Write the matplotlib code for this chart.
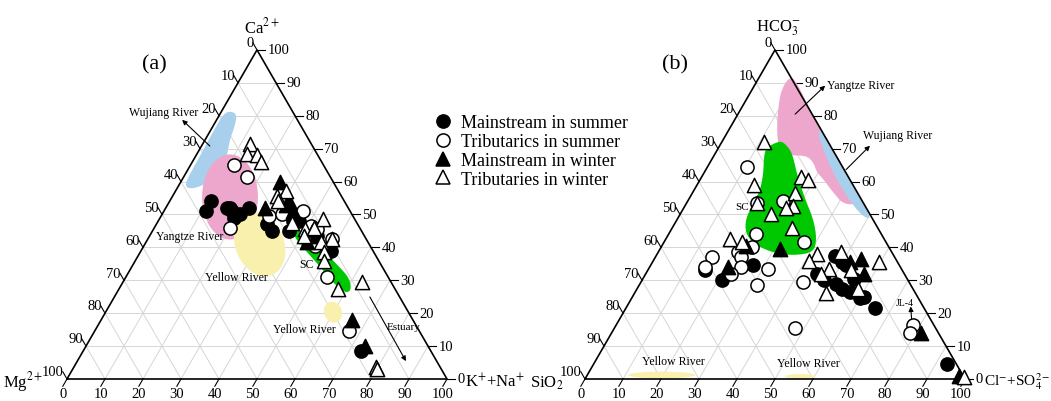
import numpy as np
import matplotlib
matplotlib.use("Agg")
import matplotlib.pyplot as plt
from matplotlib.patches import Polygon, Ellipse
from matplotlib.lines import Line2D

plt.rcParams['font.family'] = ['Liberation Serif', 'DejaVu Serif']
plt.rcParams['mathtext.fontset'] = 'stix'

SQ3 = np.sqrt(3)

# ====== panel (a): cations, % K+Na (bottom axis) and % Ca (right axis) ======
a_ms_summer_kna = [11, 11, 16, 18, 20.5, 22, 19.5, 17, 29, 31.5, 36, 35.5, 37, 44, 50, 73]
a_ms_summer_ca = [54, 51, 52, 51, 50, 52, 49, 52, 47, 45, 45, 48, 48, 43.5, 39, 8.5]
a_tr_summer_kna = [11.5, 16.5, 20, 28.5, 31.5, 36.5, 41, 43, 48.5, 45, 53, 67]
a_tr_summer_ca = [65, 61.5, 46, 49.5, 50, 51, 46.5, 45.5, 42.5, 40.5, 31, 14.5]
a_ms_winter_kna = [26, 31.5, 26, 34, 31, 44, 42.5, 66, 73.5]
a_ms_winter_ca = [60, 54, 52, 51, 53, 43.5, 41.5, 18, 10]
a_tr_winter_kna = [12.5, 13, 16, 18, 29, 27.5, 28.5, 35.5, 40, 43, 40.5, 42, 48.5, 46, 48.5,
                   49.5, 57.5, 63, 79.5, 80]
a_tr_winter_ca = [71.5, 68.5, 68, 66, 57, 55.5, 54, 47.5, 45.5, 48.5, 43.5, 46, 42.5, 41.5, 38.5,
                  36, 27.5, 29.5, 3.5, 3]

# ====== panel (b): anions, % Cl+SO4 (bottom axis) and % HCO3 (right axis) ======
b_ms_summer_cls = [27, 21, 15, 47, 50, 45, 48, 51.5, 54, 56.5, 60, 61, 65.5, 51.5, 93, 55.5]
b_ms_summer_hco = [34.5, 30, 33, 37.5, 35.5, 32, 30, 29, 27.5, 26.5, 24.5, 25, 21.5, 34.5, 4.5, 30.5]
b_tr_summer_cls = [10.5, 18.5, 25, 23, 37, 15, 14.5, 21, 22.5, 24, 22.5, 24, 31.5, 31, 42.5, 47.5,
                   78, 78.5]
b_tr_summer_hco = [64.5, 53.5, 54, 44, 41.5, 37, 34, 38.5, 37, 34, 32, 40, 33.5, 28.5, 29.5, 15.5,
                   16.5, 14]
b_ms_winter_cls = [31.5, 22, 20.5, 54.5, 52, 57.5, 81.5, 98]
b_ms_winter_hco = [39.5, 40.5, 34, 36.5, 35.5, 32, 14, 1]
b_tr_winter_cls = [11, 15, 18.5, 24, 26, 28.5, 27, 28.5, 27, 31.5, 17, 20.5, 42, 41, 48, 59.5,
                   47.5, 46, 53.5, 50.5, 58, 99.5]
b_tr_winter_hco = [72, 59, 53.5, 50, 61.5, 60.5, 56.5, 52.5, 52, 46, 42.5, 41.5, 38, 36, 38.5, 35.5,
                   33.5, 32, 33, 26, 27.5, 0.7]

tick_values = list(range(0, 101, 10))
legend_labels = ['Mainstream in summer', 'Tributarics in summer',
                 'Mainstream in winter', 'Tributaries in winter']

# outlines of the comparison fields (triangle plot units)
a_wujiang = [(42.9, 70.5), (44.7, 69.7), (44.2, 66.6), (42.9, 63.2), (42.1, 58.7), (40.3, 54.5),
             (37.6, 51.8), (33.2, 50.0), (31.1, 50.5), (31.6, 52.6), (35.0, 58.7), (38.4, 65.0),
             (41.1, 69.7)]
a_sc = [(59.6, 39.2), (62.4, 38.8), (67.2, 34.0), (71.6, 29.6), (74.4, 26.4), (74.8, 23.2),
        (73.0, 22.7), (69.8, 25.6), (66.2, 30.0), (62.6, 34.0), (59.8, 37.4)]
b_yangtze = [(53.8, 79.3), (55.4, 78.8), (59.6, 70.0), (65.4, 60.0), (71.1, 50.0), (71.6, 46.0),
             (68.0, 46.0), (65.3, 49.1), (62.7, 52.6), (61.0, 54.4), (60.1, 57.0), (58.3, 58.8),
             (53.9, 58.8), (51.1, 60.1), (50.4, 65.8), (51.1, 73.7), (52.2, 77.2)]
b_wujiang = [(61.8, 65.6), (62.3, 65.5), (75.6, 42.5), (73.7, 42.3), (70.6, 45.6), (67.1, 50.9),
             (64.5, 56.1), (62.7, 60.5), (61.4, 64.1)]
b_sc = [(50.9, 62.5), (47.8, 61.0), (47.1, 58.8), (46.9, 53.6), (45.9, 49.1), (43.4, 44.7),
        (42.1, 41.2), (42.5, 37.7), (45.2, 35.1), (49.6, 33.2), (54.8, 32.5), (60.1, 33.3),
        (61.0, 36.8), (60.1, 42.1), (57.9, 47.4), (55.9, 53.5), (54.8, 58.3), (53.9, 60.5),
        (52.2, 62.3)]

PINK = '#EEA7CC'
BLUE = '#A8D0EC'
YELLOW = '#FAF0AE'
GREEN = '#00C800'


def proj(b, c):
    b = np.asarray(b, float)
    c = np.asarray(c, float)
    return b + c / 2, c * SQ3 / 2


def smooth(pts, n=3):
    pts = np.asarray(pts, float)
    for _ in range(n):
        nxt = np.roll(pts, -1, axis=0)
        out = np.empty((2 * len(pts), 2))
        out[0::2] = 0.75 * pts + 0.25 * nxt
        out[1::2] = 0.25 * pts + 0.75 * nxt
        pts = out
    return pts


def draw_frame(ax):
    # grid
    for v in range(10, 100, 10):
        for (b0, c0), (b1, c1) in [((0, v), (100 - v, v)), ((v, 0), (v, 100 - v)),
                                   ((100 - v, 0), (0, 100 - v))]:
            x, y = proj([b0, b1], [c0, c1])
            ax.plot(x, y, color='#d6d6d6', lw=0.7, zorder=1)
    x, y = proj([0, 100, 0, 0], [0, 0, 100, 0])
    ax.plot(x, y, color='black', lw=1.2, zorder=5, solid_joinstyle='miter')
    L = 2.2
    for v in tick_values:
        # right edge
        x, y = proj(100 - v, v)
        ax.plot([x, x + L], [y, y], color='black', lw=0.8)
        ax.text(x + L + 0.5, y, str(v), ha='left', va='center', fontsize=10.5)
        # left edge
        x, y = proj(0, 100 - v)
        dx, dy = -0.5 * L, SQ3 / 2 * L
        ax.plot([x, x + dx], [y, y + dy], color='black', lw=0.8)
        ax.text(x + dx + 0.3, y + dy, str(v), ha='right', va='center', fontsize=10.5)
        # bottom edge
        x, y = proj(v, 0)
        dx, dy = -0.5 * L, -SQ3 / 2 * L
        ax.plot([x, x + dx], [y, y + dy], color='black', lw=0.8)
        ax.text(x + dx, y + dy - 0.2, str(v), ha='center', va='top', fontsize=10.5)


def draw_points(ax, groups):
    styles = [dict(marker='o', facecolor='black', s=90),
              dict(marker='o', facecolor='white', s=90),
              dict(marker='^', facecolor='black', s=105),
              dict(marker='^', facecolor='white', s=105)]
    for k, ((b, c), st) in enumerate(zip(groups, styles)):
        x, y = proj(b, c)
        ax.scatter(x, y, marker=st['marker'], s=st['s'], facecolor=st['facecolor'],
                   edgecolor='black', linewidths=1.1, zorder=6 + k)


def arrow(ax, start, end):
    ax.annotate('', xy=end, xytext=start,
                arrowprops=dict(arrowstyle='-|>', color='black', lw=0.8,
                                mutation_scale=7, shrinkA=0, shrinkB=0))


fig = plt.figure(figsize=(10.51, 4.02), dpi=100)

px = 3.8  # pixels per percent
ax_a = fig.add_axes([0, 0, 525 / 1051, 1])
ax_a.set_xlim(-67 / px, (525 - 67) / px)
ax_a.set_ylim(-22 / px, 380 / px)
ax_b = fig.add_axes([525 / 1051, 0, 526 / 1051, 1])
ax_b.set_xlim((525 - 585) / px, (1051 - 585) / px)
ax_b.set_ylim(-22 / px, 380 / px)
for ax in (ax_a, ax_b):
    ax.set_axis_off()
    draw_frame(ax)

# ---- panel (a) ----
ax_a.add_patch(Polygon(smooth(a_wujiang), closed=True, facecolor=BLUE, edgecolor='none', zorder=2))
ax_a.add_patch(Ellipse((42.9, 47.9), 14.7, 22.4, facecolor=PINK, edgecolor='none', zorder=2))
ax_a.add_patch(Ellipse((50.7, 35.5), 12.8, 17.5, angle=22, facecolor=YELLOW, edgecolor='none', zorder=3))
ax_a.add_patch(Ellipse((70.0, 17.6), 4.7, 5.6, angle=20, facecolor=YELLOW, edgecolor='none', zorder=3))
ax_a.add_patch(Polygon(smooth(a_sc, 2), closed=True, facecolor=GREEN, edgecolor='none', zorder=3))

draw_points(ax_a, [(a_ms_summer_kna, a_ms_summer_ca), (a_tr_summer_kna, a_tr_summer_ca),
                   (a_ms_winter_kna, a_ms_winter_ca), (a_tr_winter_kna, a_tr_winter_ca)])

ax_a.text(22.9, 82.9, '(a)', fontsize=16, ha='center', va='center')
ax_a.text(51.3, 92.9, 'Ca$^{2+}$', fontsize=12, ha='center', va='center')
ax_a.text(-11.6, -0.4, 'Mg$^{2+}$', fontsize=12, ha='center', va='center')
ax_a.text(104.8, -0.5, 'K$^{+}$+Na$^{+}$', fontsize=12, ha='left', va='center')
ax_a.text(25.3, 70.3, 'Wujiang River', fontsize=8.5, ha='center', va='center')
arrow(ax_a, (37.6, 61.3), (30.3, 68.2))
ax_a.text(32.4, 37.6, 'Yangtze River', fontsize=8.5, ha='center', va='center')
ax_a.text(44.5, 26.8, 'Yellow River', fontsize=8.5, ha='center', va='center')
ax_a.text(62.9, 30.3, 'SC', fontsize=8.5, ha='center', va='center')
ax_a.text(62.4, 13.2, 'Yellow River', fontsize=8.5, ha='center', va='center')
ax_a.text(88.7, 13.9, 'Estuary', fontsize=8, ha='center', va='center')
arrow(ax_a, (79.7, 21.6), (89.2, 4.7))

# ---- panel (b) ----
ax_b.add_patch(Polygon(smooth(b_yangtze, 2), closed=True, facecolor=PINK, edgecolor='none', zorder=2))
ax_b.add_patch(Polygon(smooth(b_wujiang, 2), closed=True, facecolor=BLUE, edgecolor='none', zorder=3))
ax_b.add_patch(Polygon(smooth(b_sc, 2), closed=True, facecolor=GREEN, edgecolor='none', zorder=3))
ax_b.add_patch(Ellipse((20.2, 1.05), 17.6, 1.8, facecolor=YELLOW, edgecolor='none', zorder=3))
ax_b.add_patch(Ellipse((56.6, 0.65), 7.9, 1.3, facecolor=YELLOW, edgecolor='none', zorder=3))

draw_points(ax_b, [(b_ms_summer_cls, b_ms_summer_hco), (b_tr_summer_cls, b_tr_summer_hco),
                   (b_ms_winter_cls, b_ms_winter_hco), (b_tr_winter_cls, b_tr_winter_hco)])

ax_b.text(23.7, 82.9, '(b)', fontsize=16, ha='center', va='center')
ax_b.text(50.8, 92.6, 'HCO$_3^{-}$', fontsize=12, ha='center', va='center')
ax_b.text(-5.6, -1.0, 'SiO$_2$', fontsize=12, ha='right', va='center')
ax_b.text(105.0, -0.5, 'Cl$^{-}$+SO$_4^{2-}$', fontsize=11, ha='left', va='center')
ax_b.text(63.7, 77.4, 'Yangtze River', fontsize=8.5, ha='left', va='center')
arrow(ax_b, (55.3, 69.7), (63.2, 77.2))
ax_b.text(82.4, 64.2, 'Wujiang River', fontsize=8.5, ha='center', va='center')
arrow(ax_b, (68.7, 55.1), (75.0, 61.4))
ax_b.text(41.3, 45.3, 'SC', fontsize=8, ha='center', va='center')
ax_b.text(84.2, 20.0, 'JL-4', fontsize=7, ha='center', va='center')
arrow(ax_b, (86.0, 15.1), (85.7, 19.1))
ax_b.text(23.2, 4.8, 'Yellow River', fontsize=8.5, ha='center', va='center')
ax_b.text(58.9, 4.2, 'Yellow River', fontsize=8.5, ha='center', va='center')

# ---- legend ----
handles = [Line2D([], [], ls='none', marker='o', ms=9.5, mfc='black', mec='black', mew=1.1),
           Line2D([], [], ls='none', marker='o', ms=9.5, mfc='white', mec='black', mew=1.1),
           Line2D([], [], ls='none', marker='^', ms=10, mfc='black', mec='black', mew=1.1),
           Line2D([], [], ls='none', marker='^', ms=10, mfc='white', mec='black', mew=1.1)]
fig.legend(handles, legend_labels, loc='center left', bbox_to_anchor=(434 / 1051, 1 - 152 / 402),
           frameon=False, fontsize=13, handlelength=1.0, handletextpad=0.5,
           labelspacing=0.1, borderpad=0, borderaxespad=0)

fig.savefig('out.png', dpi=100)
